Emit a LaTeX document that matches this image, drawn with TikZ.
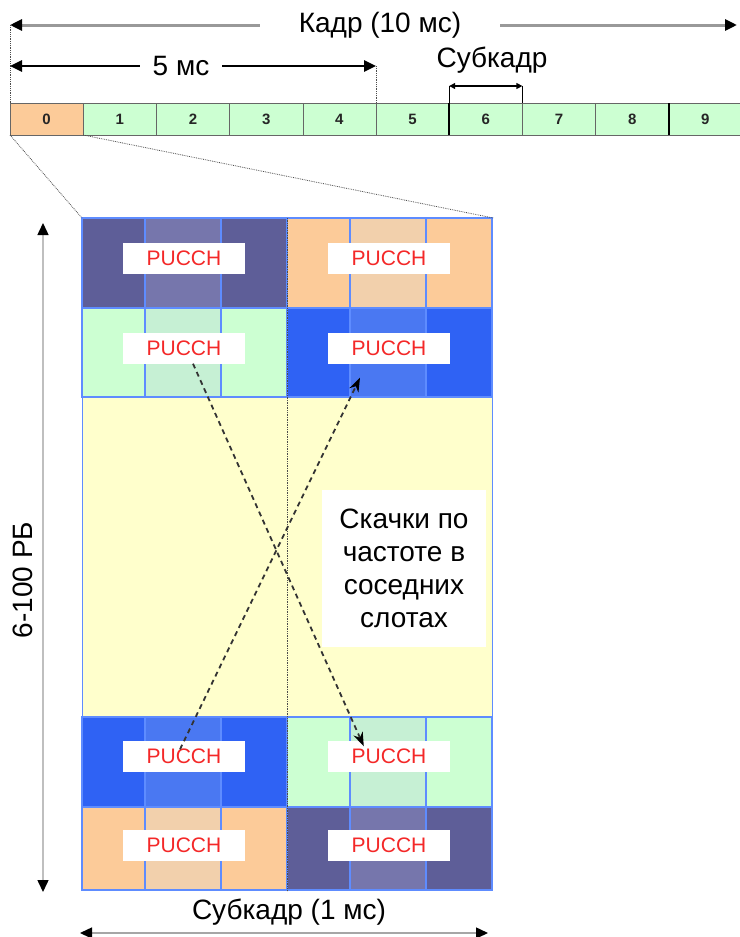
\documentclass[tikz,border=0pt]{standalone}
\usepackage{fontspec}
\setmainfont{Liberation Sans}
\setsansfont{Liberation Sans}
\usetikzlibrary{positioning,arrows.meta}
\definecolor{peach}{HTML}{FCCB99}
\definecolor{peachLight}{HTML}{F2D0AC}
\definecolor{mint}{HTML}{CCFFD2}
\definecolor{mintLight}{HTML}{C6F0D4}
\definecolor{slate}{HTML}{5E5E98}
\definecolor{slateLight}{HTML}{7676AC}
\definecolor{royal}{HTML}{2F62F4}
\definecolor{royalLight}{HTML}{4A78F2}
\definecolor{paleYellow}{HTML}{FFFFCC}
\definecolor{gridLine}{HTML}{5E8CFF}
\definecolor{pucchRed}{HTML}{F42828}
\tikzset{
  frameCell/.style={rectangle, draw=black!60, fill=mint, minimum width=73.2pt, minimum height=32pt, inner sep=0pt, outer sep=0pt, font=\sffamily\fontsize{15}{15}\selectfont\bfseries, text=black!85},
  bigLabel/.style={font=\sffamily\fontsize{28}{33}\selectfont, inner sep=0pt},
  pucchBox/.style={rectangle, fill=white, minimum width=122pt, minimum height=31pt, inner sep=0pt, text=pucchRed, font=\sffamily\fontsize{21}{21}\selectfont},
  noteBox/.style={rectangle, fill=white, align=center, minimum width=164pt, minimum height=157pt, inner sep=0pt, font=\sffamily\fontsize{28}{33}\selectfont},
  halfArrow/.style={-{Triangle[length=12pt,width=11pt,color=black]}},
  guideLine/.style={densely dotted, black!70, line width=0.8pt},
  hopArrow/.style={-{Stealth[length=14pt,width=10pt,color=black]}, dash pattern=on 5pt off 4pt, line width=1.8pt, black!80},
  gridEdge/.style={draw=gridLine, line width=1.2pt}
}
\begin{document}
\begin{tikzpicture}[x=1pt, y=-1pt, font=\sffamily]
  \useasboundingbox (0,0) rectangle (739,937);

  % frame of ten subframes
  \node [frameCell, fill=peach, anchor=north west] (c0) at (10,103) {0};
  \foreach \i [remember=\i as \prev (initially 0)] in {1,...,9}
    \node [frameCell, right=0pt of c\prev] (c\i) {\i};
  \draw [line width=1.6pt] (c6.north west) -- (c6.south west);
  \draw [line width=1.6pt] (c9.north west) -- (c9.south west);

  \coordinate (kadrL) at (10,25);
  \coordinate (kadrR) at (737,25);
  \node [bigLabel, minimum width=240pt] (kadrLbl) at (380,25) {Кадр (10 мс)};
  \draw [halfArrow, black!40, line width=3pt] (kadrLbl) -- (kadrL);
  \draw [halfArrow, black!40, line width=3pt] (kadrLbl) -- (kadrR);
  \draw [guideLine] (kadrL) -- (c0.north west);

  \coordinate (fiveL) at (10,66);
  \coordinate (fiveR) at (c5.north west |- fiveL);
  \node [bigLabel, minimum width=82pt] (fiveLbl) at (181,66) {5 мс};
  \draw [halfArrow, line width=2.5pt] (fiveLbl) -- (fiveL);
  \draw [halfArrow, line width=2.5pt] (fiveLbl) -- (fiveR);
  \draw [guideLine] (fiveR) -- (c5.north west);

  \node [bigLabel] (sfLbl) at (492,60) {Субкадр};
  \coordinate (sbL) at ([yshift=17pt]c6.north west);
  \coordinate (sbR) at ([yshift=17pt]c6.north east);
  \draw [{Triangle[length=6pt,width=6pt]}-{Triangle[length=6pt,width=6pt]}, line width=1.2pt] (sbL) -- (sbR);
  \draw [line width=1pt] (sbL) -- (c6.north west) (sbR) -- (c6.north east);

  % resource blocks of subframe 0
  \foreach \bx/\by/\bh/\main/\light in {82/218/90/slate/slateLight, 287/218/90/peach/peachLight,
      82/308/89/mint/mintLight, 287/308/89/royal/royalLight,
      82/717/90/royal/royalLight, 287/717/90/mint/mintLight,
      82/807/83/peach/peachLight, 287/807/83/slate/slateLight} {
    \fill [\main] (\bx,\by) rectangle ++(205,\bh);
    \fill [\light] (\bx+63,\by) rectangle ++(76,\bh);
    \draw [gridEdge] (\bx,\by) rectangle ++(205,\bh);
    \draw [gridEdge] (\bx+63,\by) -- ++(0,\bh) (\bx+139,\by) -- ++(0,\bh);
  }
  \fill [paleYellow] (82,397) rectangle (492,717);
  \node [gridEdge, minimum width=410pt, minimum height=672pt, inner sep=0pt, anchor=north west] (sub) at (82,218) {};
  \draw [gridEdge] (sub.west |- 0,397) -- (sub.east |- 0,397) (sub.west |- 0,717) -- (sub.east |- 0,717);
  \draw [densely dotted, black!70, line width=0.7pt] (sub.north) -- (sub.south);

  \draw [guideLine] (c0.south west) -- (sub.north west);
  \draw [guideLine] (c0.south east) -- (sub.north east);

  \foreach \name/\px/\py in {pL1/184/258, pR1/389/258, pL2/184/348, pR2/389/348,
      pL3/184/756, pR3/389/756, pL4/184/845, pR4/389/845}
    \node [pucchBox] (\name) at (\px,\py) {PUCCH};

  \draw [hopArrow] ([xshift=9pt]pL2.south) -- ([xshift=36pt,yshift=-6pt]pR3.north west);
  \draw [hopArrow] ([xshift=-4pt,yshift=-9pt]pL3.north) -- ([xshift=-29pt,yshift=-14pt]pR2.south);

  \node [noteBox] (hopNote) at (404,568) {Скачки по\\частоте в\\соседних\\ слотах};

  % bandwidth and duration
  \coordinate (bwTop) at (43,223);
  \coordinate (bwBot) at (43,892);
  \draw [{Triangle[length=12pt,width=11pt,color=black]}-{Triangle[length=12pt,width=11pt,color=black]}, black!25, line width=1.5pt] (bwTop) -- (bwBot);
  \node [bigLabel, rotate=90] (bwLbl) at (23,580) {6-100 РБ};

  \coordinate (durL) at (80,933);
  \coordinate (durR) at (488,933);
  \node [bigLabel] (durLbl) at (289,912) {Субкадр (1 мс)};
  \draw [{Triangle[length=12pt,width=11pt,color=black]}-{Triangle[length=12pt,width=11pt,color=black]}, black!35, line width=1.5pt] (durL) -- (durR);
\end{tikzpicture}
\end{document}
